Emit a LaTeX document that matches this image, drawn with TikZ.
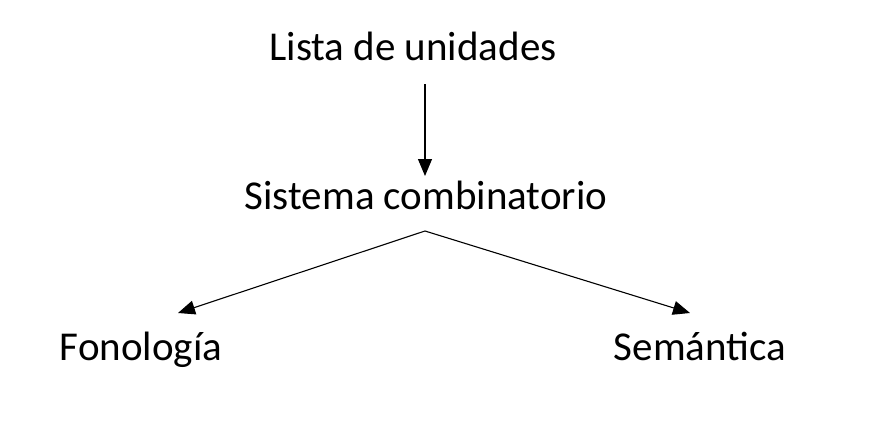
\documentclass[tikz,border=0pt]{standalone}
\usepackage{fontspec}
\setmainfont{Carlito}
\usetikzlibrary{arrows.meta}
\begin{document}
\begin{tikzpicture}[x=1pt,y=-1pt,
  lbl/.style={anchor=base,inner sep=0pt,font=\fontsize{41}{49}\selectfont},
  conn/.style={line width=1.1pt,-{Triangle[length=17pt,width=14pt]}}]
\useasboundingbox (0,0) rectangle (870,428);
\node[lbl] (lista) at (413,61) {Lista de unidades};
\node[lbl] (sistema) at (426,209) {Sistema combinatorio};
\node[lbl] (fono) at (141,360) {Fonología};
\node[lbl] (sema) at (700,360) {Semántica};
\coordinate (top) at (425,84);
\coordinate (topend) at (425,176);
\coordinate (apex) at (425,231);
\coordinate (ltip) at (178,313);
\coordinate (rtip) at (690,313);
\draw[conn] (top) -- (topend);
\draw[conn] (apex) -- (ltip);
\draw[conn] (apex) -- (rtip);
\end{tikzpicture}
\end{document}
